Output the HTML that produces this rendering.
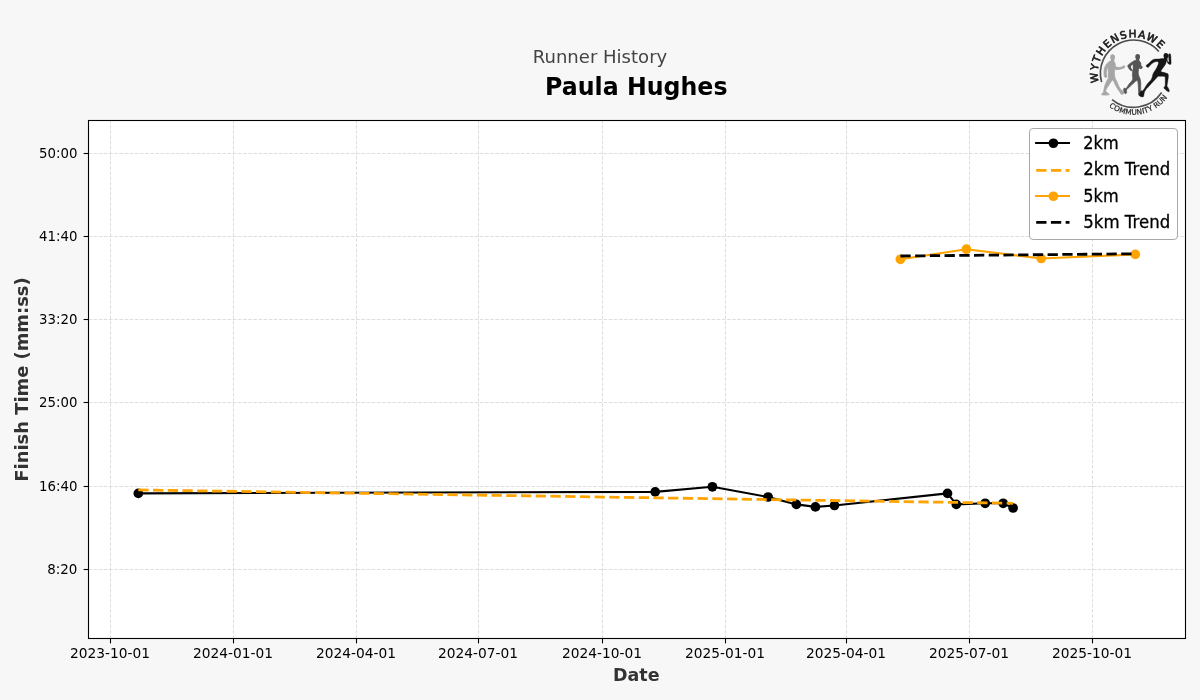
<!DOCTYPE html>
<html lang="en"><head><meta charset="utf-8"><title>Runner History - Paula Hughes</title>
<style>
html,body{margin:0;padding:0;background:#f7f7f7;}
body{width:1200px;height:700px;overflow:hidden;font-family:"DejaVu Sans", "Liberation Sans", sans-serif;}
svg{display:block;will-change:transform;}
text{font-family:"DejaVu Sans", "Liberation Sans", sans-serif;}
.tick{font-size:13.89px;fill:#000;}
.leg{font-size:17.7px;fill:#000;stroke:#000;stroke-width:0.3px;}
.axl{font-size:18.06px;font-weight:bold;fill:#333;}
</style></head><body>
<svg width="1200" height="700" viewBox="0 0 1200 700">
<rect x="0" y="0" width="1200" height="700" fill="#f7f7f7"/>
<rect x="88.5" y="120.5" width="1097.0" height="518.0" fill="#fff"/>

<g stroke="#cfcfcf" stroke-opacity="0.7" stroke-width="0.97" stroke-dasharray="3.6 1.55" fill="none">
<path d="M110.5 638.5V120.5"/>
<path d="M233.5 638.5V120.5"/>
<path d="M356.5 638.5V120.5"/>
<path d="M478.5 638.5V120.5"/>
<path d="M602.5 638.5V120.5"/>
<path d="M725.5 638.5V120.5"/>
<path d="M846.5 638.5V120.5"/>
<path d="M969.5 638.5V120.5"/>
<path d="M1092.5 638.5V120.5"/>
<path d="M88.5 153.5H1185.5"/>
<path d="M88.5 236.5H1185.5"/>
<path d="M88.5 319.5H1185.5"/>
<path d="M88.5 402.5H1185.5"/>
<path d="M88.5 486.5H1185.5"/>
<path d="M88.5 569.5H1185.5"/>
</g>
<polyline points="138.3,493.4 655.2,491.9 712.4,486.8 768.1,497.0 796.4,504.4 815.4,506.9 834.5,505.5 947.5,493.4 956.3,504.4 985.2,503.3 1003.2,503.3 1013.1,508.0" fill="none" stroke="#000" stroke-width="2.08" stroke-linejoin="round" stroke-linecap="square"/>
<circle cx="138.3" cy="493.4" r="4.85" fill="#000"/>
<circle cx="655.2" cy="491.9" r="4.85" fill="#000"/>
<circle cx="712.4" cy="486.8" r="4.85" fill="#000"/>
<circle cx="768.1" cy="497.0" r="4.85" fill="#000"/>
<circle cx="796.4" cy="504.4" r="4.85" fill="#000"/>
<circle cx="815.4" cy="506.9" r="4.85" fill="#000"/>
<circle cx="834.5" cy="505.5" r="4.85" fill="#000"/>
<circle cx="947.5" cy="493.4" r="4.85" fill="#000"/>
<circle cx="956.3" cy="504.4" r="4.85" fill="#000"/>
<circle cx="985.2" cy="503.3" r="4.85" fill="#000"/>
<circle cx="1003.2" cy="503.3" r="4.85" fill="#000"/>
<circle cx="1013.1" cy="508.0" r="4.85" fill="#000"/>
<polyline points="138.3,489.9 1013.1,503.3" fill="none" stroke="#ffa300" stroke-width="2.78" stroke-dasharray="10.28 4.44"/>
<polyline points="900.4,259.3 966.4,249.2 1041.2,258.5 1135.3,254.4" fill="none" stroke="#ffa300" stroke-width="2.08" stroke-linejoin="round" stroke-linecap="square"/>
<circle cx="900.4" cy="259.3" r="4.85" fill="#ffa300"/>
<circle cx="966.4" cy="249.2" r="4.85" fill="#ffa300"/>
<circle cx="1041.2" cy="258.5" r="4.85" fill="#ffa300"/>
<circle cx="1135.3" cy="254.4" r="4.85" fill="#ffa300"/>
<polyline points="900.4,256.0 1135.3,253.8" fill="none" stroke="#000" stroke-width="2.78" stroke-dasharray="10.28 4.44"/>
<rect x="88.5" y="120.5" width="1097.0" height="518.0" fill="none" stroke="#000" stroke-width="1.1"/>
<g stroke="#000" stroke-width="1.1">
<path d="M110.5 638.5v4.9"/>
<path d="M233.5 638.5v4.9"/>
<path d="M356.5 638.5v4.9"/>
<path d="M478.5 638.5v4.9"/>
<path d="M602.5 638.5v4.9"/>
<path d="M725.5 638.5v4.9"/>
<path d="M846.5 638.5v4.9"/>
<path d="M969.5 638.5v4.9"/>
<path d="M1092.5 638.5v4.9"/>
<path d="M88.5 153.5h-4.9"/>
<path d="M88.5 236.5h-4.9"/>
<path d="M88.5 319.5h-4.9"/>
<path d="M88.5 402.5h-4.9"/>
<path d="M88.5 486.5h-4.9"/>
<path d="M88.5 569.5h-4.9"/>
</g>
<text class="tick" x="110.0" y="658.0" text-anchor="middle" textLength="80.0" lengthAdjust="spacingAndGlyphs">2023-10-01</text>
<text class="tick" x="233.0" y="658.0" text-anchor="middle" textLength="80.0" lengthAdjust="spacingAndGlyphs">2024-01-01</text>
<text class="tick" x="356.0" y="658.0" text-anchor="middle" textLength="80.0" lengthAdjust="spacingAndGlyphs">2024-04-01</text>
<text class="tick" x="478.0" y="658.0" text-anchor="middle" textLength="80.0" lengthAdjust="spacingAndGlyphs">2024-07-01</text>
<text class="tick" x="602.0" y="658.0" text-anchor="middle" textLength="80.0" lengthAdjust="spacingAndGlyphs">2024-10-01</text>
<text class="tick" x="725.0" y="658.0" text-anchor="middle" textLength="80.0" lengthAdjust="spacingAndGlyphs">2025-01-01</text>
<text class="tick" x="846.0" y="658.0" text-anchor="middle" textLength="80.0" lengthAdjust="spacingAndGlyphs">2025-04-01</text>
<text class="tick" x="969.0" y="658.0" text-anchor="middle" textLength="80.0" lengthAdjust="spacingAndGlyphs">2025-07-01</text>
<text class="tick" x="1092.0" y="658.0" text-anchor="middle" textLength="80.0" lengthAdjust="spacingAndGlyphs">2025-10-01</text>
<text class="tick" x="77.4" y="157.8" text-anchor="end" textLength="38.4" lengthAdjust="spacingAndGlyphs">50:00</text>
<text class="tick" x="77.4" y="240.8" text-anchor="end" textLength="38.4" lengthAdjust="spacingAndGlyphs">41:40</text>
<text class="tick" x="77.4" y="323.8" text-anchor="end" textLength="38.4" lengthAdjust="spacingAndGlyphs">33:20</text>
<text class="tick" x="77.4" y="406.8" text-anchor="end" textLength="38.4" lengthAdjust="spacingAndGlyphs">25:00</text>
<text class="tick" x="77.4" y="490.8" text-anchor="end" textLength="38.4" lengthAdjust="spacingAndGlyphs">16:40</text>
<text class="tick" x="77.4" y="573.8" text-anchor="end" textLength="30.2" lengthAdjust="spacingAndGlyphs">8:20</text>
<text class="axl" x="636.3" y="681" text-anchor="middle" textLength="46.5" lengthAdjust="spacingAndGlyphs">Date</text>
<text class="axl" transform="translate(28,379.5) rotate(-90)" text-anchor="middle" textLength="204.3" lengthAdjust="spacingAndGlyphs">Finish Time (mm:ss)</text>
<text x="600" y="63" text-anchor="middle" font-size="18.06" fill="#444">Runner History</text>
<text x="636.3" y="95" text-anchor="middle" font-size="25" font-weight="bold" fill="#000" textLength="182.4" lengthAdjust="spacingAndGlyphs">Paula Hughes</text>
<rect x="1029.5" y="128.5" width="148" height="111" rx="3.6" fill="#fff" stroke="#a8a8a8" stroke-width="1"/>
<path d="M1036.15 143.0h32.8" stroke="#000" stroke-width="2.08" stroke-linecap="square" fill="none"/><circle cx="1053.4" cy="143.25" r="4.85" fill="#000"/>
<text class="leg" x="1083.3" y="148.8" textLength="35.3" lengthAdjust="spacingAndGlyphs">2km</text>
<path d="M1036.2 170.4h33.3" stroke="#ffa300" stroke-width="2.78" stroke-dasharray="10.28 4.44" fill="none"/>
<text class="leg" x="1083.3" y="174.8" textLength="86.9" lengthAdjust="spacingAndGlyphs">2km Trend</text>
<path d="M1036.15 196.0h32.8" stroke="#ffa300" stroke-width="2.08" stroke-linecap="square" fill="none"/><circle cx="1053.4" cy="196.25" r="4.85" fill="#ffa300"/>
<text class="leg" x="1083.3" y="201.8" textLength="35.3" lengthAdjust="spacingAndGlyphs">5km</text>
<path d="M1036.2 222.4h33.3" stroke="#000" stroke-width="2.78" stroke-dasharray="10.28 4.44" fill="none"/>
<text class="leg" x="1083.3" y="227.6" textLength="86.9" lengthAdjust="spacingAndGlyphs">5km Trend</text>
<g id="logo">
<path d="M1101.58 82.09A33.3 33.3 0 0 1 1158.83 51.45" fill="none" stroke="#4a4a4a" stroke-width="1.6"/>
<path d="M1112.07 99.54A34.0 34.0 0 0 0 1161.72 92.56" fill="none" stroke="#505050" stroke-width="1.7"/>
<defs><path id="arcTop" d="M1098.85 82.31A36.0 36.0 0 0 1 1160.11 48.84"/><path id="arcBot" d="M1108.96 106.62A41.5 41.5 0 0 0 1167.36 97.58"/></defs>
<text font-family="'Liberation Sans', 'DejaVu Sans', sans-serif" font-size="10.4" fill="#1a1a1a" stroke="#1a1a1a" stroke-width="0.62" stroke-linejoin="round"><textPath href="#arcTop" textLength="95.3" lengthAdjust="spacing">WYTHENSHAWE</textPath></text>
<text font-family="'Liberation Sans', 'DejaVu Sans', sans-serif" font-size="7.4" fill="#222" stroke="#222" stroke-width="0.2"><textPath href="#arcBot" textLength="65.8" lengthAdjust="spacing">COMMUNITY RUN</textPath></text>
<path d="M1108.27 62.33C1109.58 61.10 1110.05 60.89 1111.36 60.96C1112.66 61.03 1113.86 61.51 1114.78 62.67C1115.70 63.84 1114.78 65.86 1115.95 66.78C1117.11 67.70 1119.12 67.44 1120.60 67.26C1122.08 67.08 1122.49 66.05 1123.34 65.89C1124.19 65.73 1124.64 66.08 1124.85 66.44C1125.05 66.79 1125.15 67.16 1124.37 67.67C1123.59 68.18 1122.63 68.56 1120.95 68.97C1119.26 69.38 1117.21 69.75 1115.95 69.73C1114.68 69.70 1114.88 67.44 1114.64 68.84C1114.41 70.23 1114.27 74.04 1114.78 76.71C1115.29 79.38 1116.15 79.86 1117.18 82.19C1118.21 84.52 1118.66 86.47 1119.92 88.36C1121.18 90.25 1122.55 90.75 1123.48 91.64C1124.41 92.53 1124.95 92.26 1124.58 92.81C1124.21 93.36 1122.53 94.45 1121.63 94.38C1120.73 94.32 1121.08 93.95 1120.05 92.47C1119.03 90.99 1117.86 89.38 1116.49 86.99C1115.12 84.59 1114.03 81.85 1113.21 80.48C1112.38 79.11 1113.37 79.04 1112.38 80.14C1111.40 81.23 1109.62 83.77 1108.27 85.96C1106.93 88.15 1105.60 89.55 1105.67 91.10C1105.74 92.64 1108.03 92.95 1108.62 93.70C1109.21 94.45 1109.92 94.63 1108.62 94.86C1107.32 95.10 1103.41 95.14 1102.11 94.86C1100.81 94.59 1101.81 94.14 1102.11 93.49C1102.41 92.85 1103.07 93.22 1103.62 91.64C1104.16 90.07 1104.05 88.05 1104.85 85.62C1105.64 83.18 1106.90 81.10 1107.59 79.45C1108.27 77.81 1108.16 79.73 1108.27 77.40C1108.38 75.07 1108.34 69.52 1108.14 67.81C1107.93 66.10 1107.60 67.88 1107.25 68.84C1106.89 69.79 1106.45 71.00 1106.36 72.60C1106.26 74.21 1107.11 75.96 1106.77 76.85C1106.42 77.74 1105.19 77.90 1104.64 77.05C1104.10 76.21 1103.99 74.59 1104.03 72.60C1104.07 70.62 1104.00 69.18 1104.85 67.12C1105.70 65.07 1106.97 63.56 1108.27 62.33Z" fill="#a6a6a6" stroke="#a6a6a6" stroke-width="0.75" stroke-linejoin="round"/><ellipse cx="1112.59" cy="57.19" rx="2.33" ry="2.88" fill="#a6a6a6"/><path d="M1111.15 58.22L1114.16 58.22L1114.44 61.99L1110.67 61.99Z" fill="#a6a6a6"/>
<path d="M1132.73 61.64C1134.37 60.68 1134.99 60.21 1136.49 60.27C1138.00 60.34 1139.36 60.89 1140.26 61.99C1141.16 63.08 1140.64 64.86 1141.01 65.75C1141.38 66.64 1141.92 65.95 1142.11 66.44C1142.30 66.93 1142.41 67.78 1141.97 68.22C1141.53 68.66 1140.52 68.68 1139.92 68.63C1139.32 68.58 1139.29 66.88 1138.96 67.95C1138.63 69.01 1138.01 71.67 1138.27 73.97C1138.53 76.27 1139.77 77.40 1140.26 79.45C1140.75 81.51 1140.64 81.92 1140.74 84.25C1140.84 86.58 1140.47 88.88 1140.74 91.10C1141.01 93.32 1142.48 94.49 1142.11 95.34C1141.74 96.19 1139.60 96.19 1138.89 95.34C1138.18 94.49 1138.68 93.32 1138.55 91.10C1138.41 88.88 1138.41 86.27 1138.21 84.25C1138.00 82.22 1137.93 81.62 1137.52 80.96C1137.11 80.30 1136.77 80.68 1136.15 80.96C1135.53 81.23 1135.67 81.23 1134.44 82.33C1133.21 83.42 1131.53 84.96 1129.99 86.44C1128.44 87.92 1127.36 88.52 1126.70 89.73C1126.04 90.93 1127.00 91.68 1126.70 92.47C1126.40 93.25 1125.78 94.04 1125.19 93.63C1124.60 93.22 1123.96 91.49 1123.75 90.41C1123.55 89.33 1123.67 88.66 1124.16 88.22C1124.66 87.78 1125.26 89.01 1126.22 88.22C1127.18 87.42 1127.70 85.93 1128.96 84.25C1130.22 82.56 1131.84 81.58 1132.52 79.79C1133.21 78.01 1132.37 77.12 1132.38 75.34C1132.40 73.56 1132.93 71.85 1132.59 70.89C1132.25 69.93 1131.53 71.27 1130.67 70.55C1129.81 69.82 1128.75 68.36 1128.27 67.26C1127.79 66.16 1127.38 66.19 1128.27 65.07C1129.16 63.95 1131.08 62.60 1132.73 61.64Z" fill="#555" stroke="#555" stroke-width="0.75" stroke-linejoin="round"/><ellipse cx="1137.66" cy="56.85" rx="2.40" ry="2.88" fill="#555"/><path d="M1136.36 58.22L1139.10 58.22L1139.37 61.64L1135.95 61.64Z" fill="#555"/><path d="M1131.90 65.21C1132.21 64.84 1132.59 64.13 1132.73 64.93C1132.86 65.73 1133.03 69.63 1132.73 70.00C1132.42 70.37 1131.01 67.92 1130.88 67.12C1130.74 66.32 1131.60 65.57 1131.90 65.21Z" fill="#f7f7f7"/>
<path d="M1163.24 58.39C1164.95 58.42 1165.69 58.51 1166.58 59.14C1167.47 59.76 1167.24 60.98 1167.70 61.51C1168.16 62.05 1168.65 62.28 1168.88 61.81C1169.12 61.33 1168.97 60.53 1168.88 59.14C1168.79 57.74 1168.14 55.84 1168.44 54.83C1168.73 53.82 1169.86 53.23 1170.37 54.09C1170.87 54.95 1170.87 57.12 1170.96 59.14C1171.05 61.16 1171.35 63.26 1170.81 64.18C1170.28 65.10 1169.14 64.38 1168.29 63.74C1167.44 63.10 1167.12 60.95 1166.58 60.99C1166.05 61.04 1166.55 62.25 1165.62 63.96C1164.68 65.67 1162.80 68.00 1161.90 69.53C1161.01 71.06 1160.38 70.90 1161.16 71.61C1161.95 72.32 1164.41 72.47 1165.84 73.09C1167.27 73.72 1167.89 73.21 1168.29 74.73C1168.69 76.24 1168.08 78.47 1167.84 80.67C1167.61 82.86 1167.10 84.38 1167.10 85.71C1167.10 87.05 1167.40 86.35 1167.84 87.35C1168.29 88.34 1169.28 89.84 1169.33 90.69C1169.37 91.53 1169.14 92.07 1168.07 91.58C1167.00 91.09 1164.65 89.23 1163.98 88.24C1163.32 87.24 1164.49 87.23 1164.73 86.60C1164.96 85.98 1165.08 86.75 1165.17 85.12C1165.26 83.49 1165.26 80.13 1165.17 78.44C1165.08 76.75 1165.85 77.07 1164.73 76.66C1163.60 76.24 1160.94 76.33 1159.53 76.36C1158.12 76.39 1158.79 75.91 1157.67 76.80C1156.56 77.70 1155.67 78.97 1153.96 80.81C1152.25 82.65 1150.77 84.23 1149.14 86.01C1147.50 87.79 1146.76 88.39 1145.80 89.72C1144.83 91.06 1144.83 91.28 1144.31 92.69C1143.79 94.10 1144.16 96.21 1143.20 96.78C1142.23 97.34 1140.00 96.58 1139.48 95.51C1138.97 94.44 1139.86 92.50 1140.60 91.43C1141.34 90.36 1141.93 91.58 1143.20 90.17C1144.46 88.76 1145.28 86.57 1146.91 84.38C1148.54 82.18 1150.10 81.38 1151.36 79.18C1152.63 76.98 1152.18 75.62 1153.22 73.39C1154.26 71.16 1155.52 70.27 1156.56 68.04C1157.60 65.82 1158.94 63.41 1158.42 62.25C1157.90 61.10 1155.67 61.59 1153.96 62.25C1152.25 62.92 1150.99 64.59 1149.88 65.59C1148.76 66.60 1149.11 67.14 1148.39 67.30C1147.68 67.47 1146.64 66.93 1146.31 66.41C1145.99 65.89 1146.34 65.24 1146.76 64.70C1147.18 64.17 1147.18 64.73 1148.39 63.74C1149.61 62.74 1150.92 60.68 1152.85 59.73C1154.78 58.78 1155.97 59.25 1158.04 58.99C1160.12 58.72 1161.53 58.36 1163.24 58.39Z" fill="#161616" stroke="#161616" stroke-width="0.4" stroke-linejoin="round"/><ellipse cx="1165.91" cy="55.80" rx="2.38" ry="2.82" fill="#161616"/><path d="M1164.35 56.91L1167.55 56.91L1167.32 60.25L1163.61 59.88Z" fill="#161616"/>
</g>
</svg></body></html>
